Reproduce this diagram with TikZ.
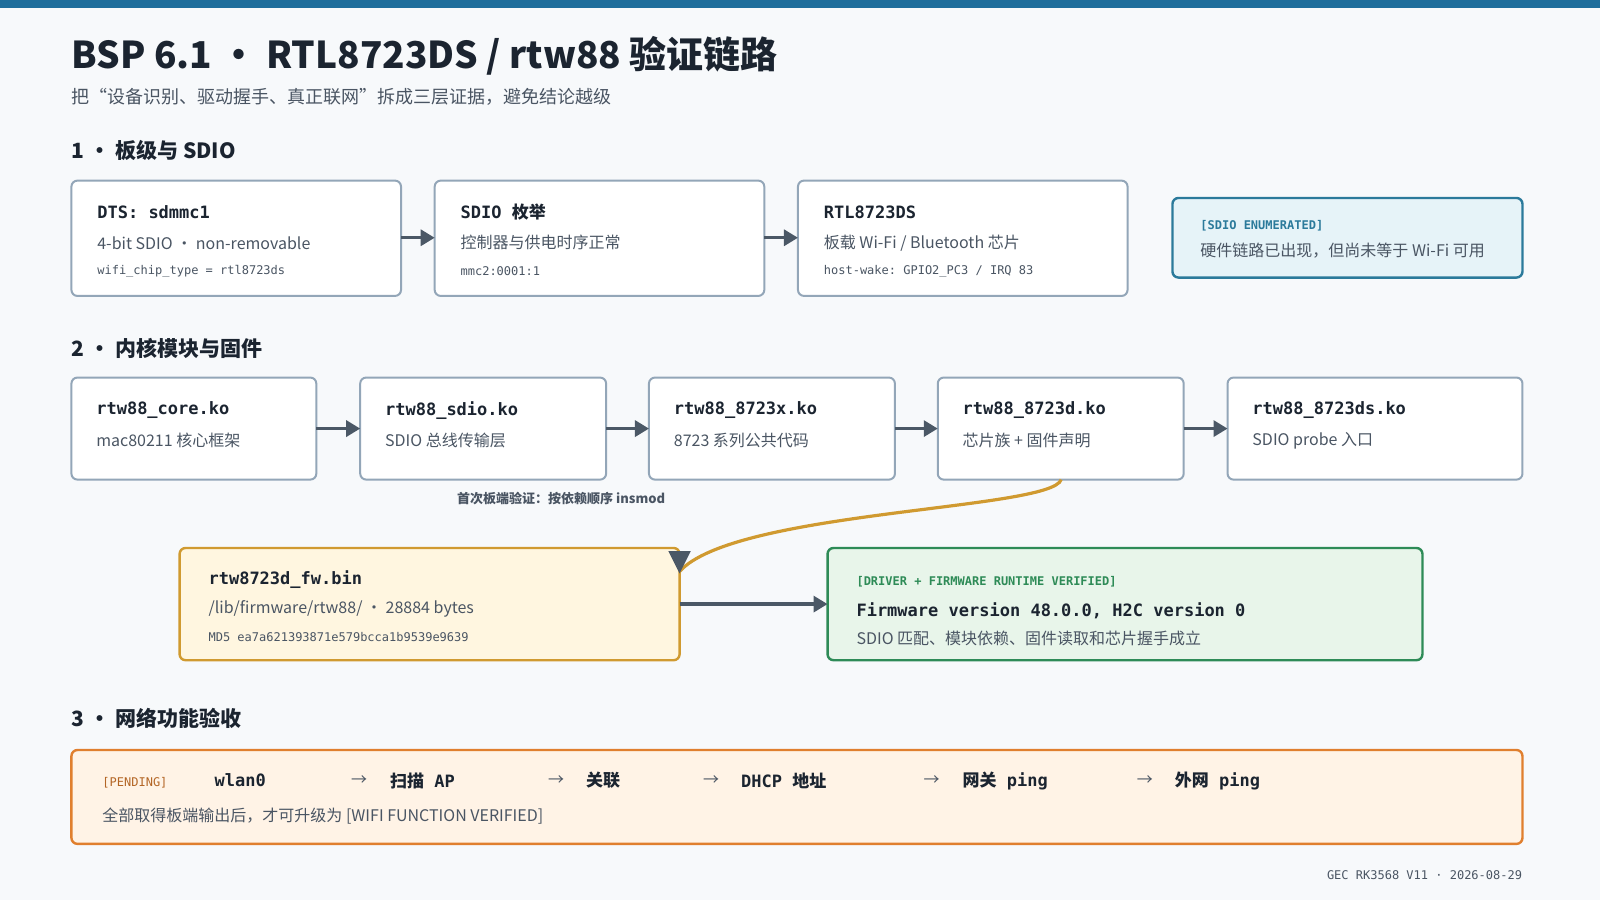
\documentclass[tikz,border=0pt]{standalone}
\usepackage{fontspec}
\setmainfont{Noto Sans CJK SC}
\setmonofont{DejaVu Sans Mono}
\usetikzlibrary{arrows.meta,positioning}
\definecolor{bgc}{HTML}{F7F9FB}
\definecolor{topbar}{HTML}{1F6E9C}
\definecolor{ink}{HTML}{1B2430}
\definecolor{subink}{HTML}{4A5563}
\definecolor{cardline}{HTML}{93A6B8}
\definecolor{arrowc}{HTML}{4B5866}
\definecolor{bluefill}{HTML}{E6F3F8}
\definecolor{blueline}{HTML}{2B7A9B}
\definecolor{fwfill}{HTML}{FFF6E0}
\definecolor{fwline}{HTML}{D09A30}
\definecolor{okfill}{HTML}{E8F5EA}
\definecolor{okline}{HTML}{2E8B57}
\definecolor{pendfill}{HTML}{FFF3E6}
\definecolor{pendline}{HTML}{E07F2E}
\tikzset{
  card/.style={draw=cardline, line width=1pt, fill=white, rounded corners=3pt},
  flow/.style={draw=arrowc, line width=1.6pt, -{Triangle[length=7pt,width=8pt]}},
  ttl/.style={anchor=west, inner xsep=0pt, text=ink, font=\ttfamily\bfseries\fontsize{8.5}{10}\selectfont},
  txt/.style={anchor=west, inner xsep=0pt, text=subink, font=\fontsize{8}{10}\selectfont},
  tiny/.style={anchor=west, inner xsep=0pt, text=subink, font=\ttfamily\fontsize{6}{7}\selectfont},
  head/.style={anchor=west, inner xsep=0pt, text=ink, font=\bfseries\fontsize{10.5}{12}\selectfont}
}
\begin{document}
\begin{tikzpicture}[x=0.5102pt,y=-0.5102pt]
  \fill[bgc] (0,0) rectangle (1568,882);
  \useasboundingbox (0,0) rectangle (1568,882);
  \fill[topbar] (0,0) rectangle (1568,8);

  % title
  \node[anchor=west, inner xsep=0pt, text=ink, font=\bfseries\fontsize{18.5}{22}\selectfont] (title) at (70,55) {BSP 6.1 • RTL8723DS / rtw88 验证链路};
  \node[anchor=west, inner xsep=0pt, text=subink, font=\fontsize{9}{11}\selectfont] (subtitle) at (70,95) {把“设备识别、驱动握手、真正联网”拆成三层证据，避免结论越级};

  % 1
  \node[head] (h1) at (70,147) {1 • 板级与 SDIO};
  \draw[card] (70,177) rectangle (393,290); \coordinate (dts) at (231,233);
  \draw[card] (426,177) rectangle (749,290); \coordinate (enum) at (588,233);
  \draw[card] (782,177) rectangle (1105,290); \coordinate (chip) at (944,233);
  \node[ttl] (dtsA) at (95,208) {DTS: sdmmc1};
  \node[txt] (dtsB) at (95,238) {4-bit SDIO · non-removable};
  \node[tiny] (dtsC) at (95,266) {wifi\_chip\_type = rtl8723ds};
  \node[ttl] (enumA) at (451,208) {SDIO {\rmfamily 枚举}};
  \node[txt] (enumB) at (451,238) {控制器与供电时序正常};
  \node[tiny] (enumC) at (451,266) {mmc2:0001:1};
  \node[ttl] (chipA) at (807,208) {RTL8723DS};
  \node[txt] (chipB) at (807,238) {板载 Wi-Fi / Bluetooth 芯片};
  \node[tiny] (chipC) at (807,266) {host-wake: GPIO2\_PC3 / IRQ 83};
  \draw[flow] (393,233) -- (426,233);
  \draw[flow] (749,233) -- (782,233);
  \draw[draw=blueline, line width=1.2pt, fill=bluefill, rounded corners=3pt] (1149,194) rectangle (1492,272);
  \node[tiny, text=blueline, font=\ttfamily\bfseries\fontsize{6}{7}\selectfont] (sdioA) at (1176,221) {[SDIO ENUMERATED]};
  \node[txt] (sdioB) at (1176,246) {硬件链路已出现，但尚未等于 Wi-Fi 可用};

  % 2
  \node[head] (h2) at (70,341) {2 • 内核模块与固件};
  \foreach \xa/\xb/\nm/\ta/\tb in {
      70/310/core/rtw88\_core.ko/mac80211 核心框架,
      353/594/sdio/rtw88\_sdio.ko/SDIO 总线传输层,
      636/877/x/rtw88\_8723x.ko/8723 系列公共代码,
      919/1160/d/rtw88\_8723d.ko/芯片族 + 固件声明,
      1203/1492/ds/rtw88\_8723ds.ko/SDIO probe 入口} {
    \draw[card] (\xa,370) rectangle (\xb,470);
    \node[ttl] (\nm A) at (\xa+24,402) {\ta};
    \node[txt] (\nm B) at (\xa+24,432) {\tb};
  }
  \draw[flow] (310,420) -- (353,420);
  \draw[flow] (594,420) -- (636,420);
  \draw[flow] (877,420) -- (919,420);
  \draw[flow] (1160,420) -- (1203,420);
  \node[text=subink, font=\bfseries\fontsize{6.5}{8}\selectfont] (order) at (550,489) {首次板端验证：按依赖顺序 insmod};

  \draw[draw=fwline, line width=1.2pt, fill=fwfill, rounded corners=3pt] (176,537) rectangle (666,647);
  \node[ttl] (fwA) at (204,568) {rtw8723d\_fw.bin};
  \node[txt] (fwB) at (204,597) {/lib/firmware/rtw88/ · 28884 bytes};
  \node[tiny] (fwC) at (204,624) {MD5 ea7a621393871e579bcca1b9539e9639};
  \draw[draw=okline, line width=1.2pt, fill=okfill, rounded corners=3pt] (811,537) rectangle (1394,647);
  \node[tiny, text=okline, font=\ttfamily\bfseries\fontsize{6}{7}\selectfont] (okA) at (839,570) {[DRIVER + FIRMWARE RUNTIME VERIFIED]};
  \node[ttl] (okB) at (839,599) {Firmware version 48.0.0, H2C version 0};
  \node[txt] (okC) at (839,626) {SDIO 匹配、模块依赖、固件读取和芯片握手成立};
  \draw[draw=fwline, line width=1.6pt] (1040,470) .. controls (1030,500) and (720,500) .. (666,560);
  \fill[arrowc] (655,540) -- (677,540) -- (666,562) -- cycle;
  \draw[flow] (666,592) -- (811,592);

  % 3
  \node[head] (h3) at (70,704) {3 • 网络功能验收};
  \draw[draw=pendline, line width=1.2pt, fill=pendfill, rounded corners=3pt] (70,735) rectangle (1492,827);
  \node[tiny, text=pendline!80!black, font=\ttfamily\fontsize{6}{7}\selectfont] (pend) at (100,767) {[PENDING]};
  \node[ttl] (s1) at (210,765) {wlan0};
  \node[ttl] (s2) at (382,765) {{\rmfamily 扫描} AP};
  \node[ttl] (s3) at (574,765) {{\rmfamily 关联}};
  \node[ttl] (s4) at (726,765) {DHCP {\rmfamily 地址}};
  \node[ttl] (s5) at (943,765) {{\rmfamily 网关} ping};
  \node[ttl] (s6) at (1151,765) {{\rmfamily 外网} ping};
  \foreach \ax in {352,545,697,913,1122}
    \node[text=subink, font=\fontsize{8}{10}\selectfont] at (\ax,765) {→};
  \node[txt] (pendB) at (100,800) {全部取得板端输出后，才可升级为 [WIFI FUNCTION VERIFIED]};

  \node[anchor=east, inner xsep=0pt, text=subink, font=\ttfamily\fontsize{6}{7}\selectfont] (foot) at (1492,858) {GEC RK3568 V11 · 2026-08-29};
\end{tikzpicture}
\end{document}
